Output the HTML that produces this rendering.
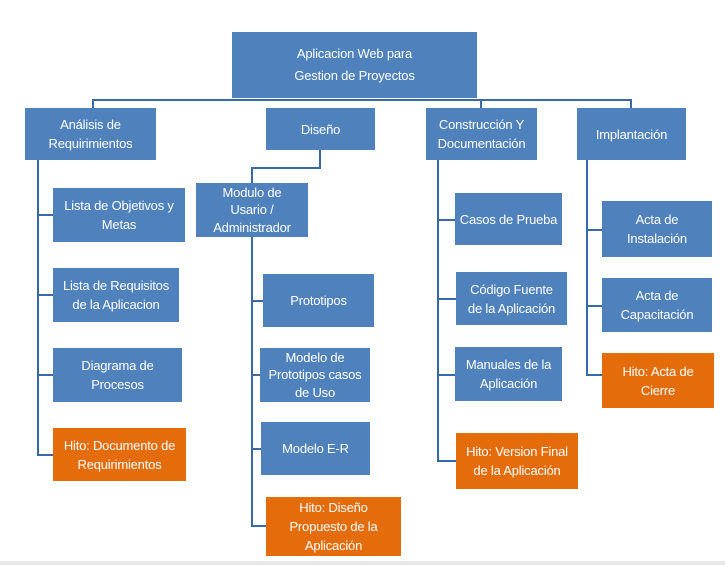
<!DOCTYPE html><html><head><style>
body{margin:0;width:725px;height:565px;background:#fff;position:relative;overflow:hidden;font-family:"Liberation Sans",sans-serif}
.b{position:absolute;background:#4f81bd;color:#fff;font-size:13px;line-height:19px;display:flex;align-items:center;justify-content:center;text-align:center;box-sizing:border-box;letter-spacing:-0.2px}
.t{line-height:17.5px}
.o{background:#e46c0a}
.l{position:absolute;background:#3a6aa5}
</style></head><body>
<div class="l" style="left:92px;top:99px;width:540px;height:2px"></div>
<div class="l" style="left:92px;top:99px;width:2px;height:10px"></div>
<div class="l" style="left:630px;top:99px;width:2px;height:10px"></div>
<div class="l" style="left:480px;top:99px;width:2px;height:10px"></div>
<div class="l" style="left:37px;top:160px;width:2px;height:296px"></div>
<div class="l" style="left:37px;top:214px;width:16px;height:2px"></div>
<div class="l" style="left:37px;top:294px;width:16px;height:2px"></div>
<div class="l" style="left:37px;top:374px;width:16px;height:2px"></div>
<div class="l" style="left:37px;top:454px;width:16px;height:2px"></div>
<div class="l" style="left:319px;top:150px;width:2px;height:18px"></div>
<div class="l" style="left:251px;top:167px;width:70px;height:2px"></div>
<div class="l" style="left:251px;top:167px;width:2px;height:16px"></div>
<div class="l" style="left:251px;top:237px;width:2px;height:290px"></div>
<div class="l" style="left:251px;top:300px;width:12px;height:2px"></div>
<div class="l" style="left:251px;top:374px;width:10px;height:2px"></div>
<div class="l" style="left:251px;top:448px;width:10px;height:2px"></div>
<div class="l" style="left:251px;top:525px;width:15px;height:2px"></div>
<div class="l" style="left:437px;top:160px;width:2px;height:302px"></div>
<div class="l" style="left:437px;top:219px;width:18px;height:2px"></div>
<div class="l" style="left:437px;top:298px;width:19px;height:2px"></div>
<div class="l" style="left:437px;top:374px;width:18px;height:2px"></div>
<div class="l" style="left:437px;top:460px;width:19px;height:2px"></div>
<div class="l" style="left:586px;top:160px;width:2px;height:216px"></div>
<div class="l" style="left:586px;top:229px;width:16px;height:2px"></div>
<div class="l" style="left:586px;top:305px;width:16px;height:2px"></div>
<div class="l" style="left:586px;top:374px;width:16px;height:2px"></div>

<div class="b" style="left:232px;top:32px;width:245px;height:66px;line-height:22px">Aplicacion Web para<br>Gestion de Proyectos</div>
<div class="b" style="left:25px;top:108px;width:131px;height:52px">Análisis de<br>Requirimientos</div>
<div class="b" style="left:266px;top:108px;width:109px;height:42px">Diseño</div>
<div class="b" style="left:426px;top:108px;width:111px;height:52px">Construcción Y<br>Documentación</div>
<div class="b" style="left:577px;top:108px;width:109px;height:52px">Implantación</div>

<div class="b" style="left:53px;top:188px;width:132px;height:54px">Lista de Objetivos y<br>Metas</div>
<div class="b" style="left:53px;top:268px;width:126px;height:54px">Lista de Requisitos<br>de la Aplicacion</div>
<div class="b" style="left:53px;top:348px;width:129px;height:54px">Diagrama de<br>Procesos</div>
<div class="b o" style="left:53px;top:428px;width:133px;height:53px">Hito: Documento de<br>Requirimientos</div>

<div class="b t" style="left:196px;top:183px;width:112px;height:54px">Modulo de<br>Usario /<br>Administrador</div>
<div class="b" style="left:263px;top:274px;width:111px;height:53px">Prototipos</div>
<div class="b t" style="left:260px;top:348px;width:110px;height:54px">Modelo de<br>Prototipos casos<br>de Uso</div>
<div class="b" style="left:261px;top:422px;width:109px;height:53px">Modelo E-R</div>
<div class="b o" style="left:266px;top:497px;width:135px;height:59px">Hito: Diseño<br>Propuesto de la<br>Aplicación</div>

<div class="b" style="left:455px;top:193px;width:107px;height:52px">Casos de Prueba</div>
<div class="b" style="left:456px;top:272px;width:111px;height:53px">Código Fuente<br>de la Aplicación</div>
<div class="b" style="left:455px;top:347px;width:107px;height:54px">Manuales de la<br>Aplicación</div>
<div class="b o" style="left:456px;top:433px;width:122px;height:56px">Hito: Version Final<br>de la Aplicación</div>

<div class="b" style="left:602px;top:201px;width:110px;height:56px">Acta de<br>Instalación</div>
<div class="b" style="left:602px;top:278px;width:110px;height:54px">Acta de<br>Capacitación</div>
<div class="b o" style="left:602px;top:353px;width:112px;height:55px">Hito: Acta de<br>Cierre</div>
<div style="position:absolute;left:0;top:561px;width:725px;height:4px;background:#e8e8e8"></div>
</body></html>
